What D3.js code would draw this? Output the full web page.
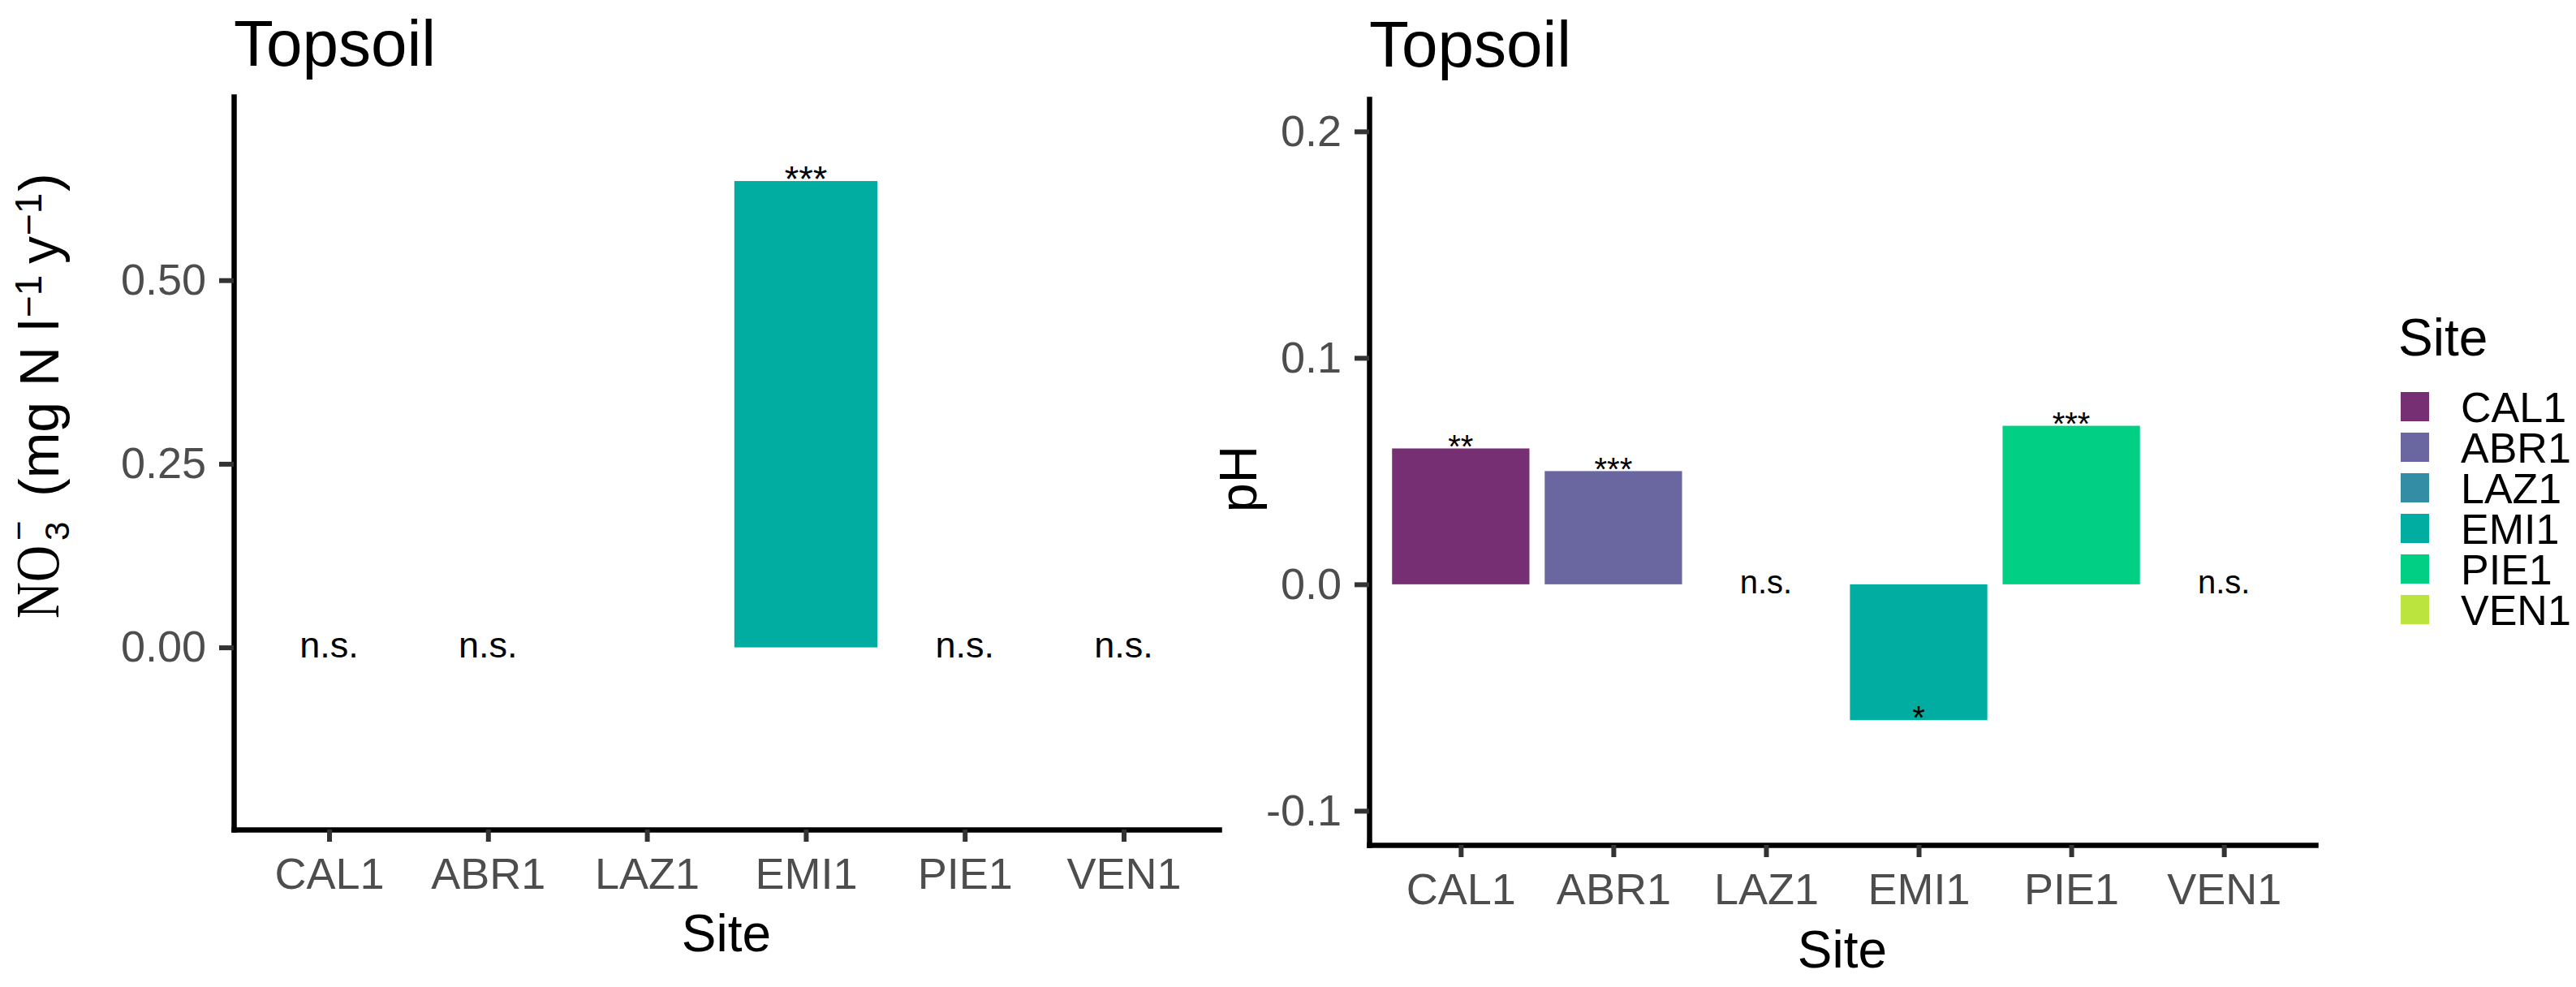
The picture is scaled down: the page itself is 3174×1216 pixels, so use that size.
<!DOCTYPE html>
<html><head><meta charset="utf-8">
<script src="https://cdn.jsdelivr.net/npm/d3@7"></script>
<style>
body{margin:0;background:#fff;}
svg text{font-family:"Liberation Sans",Arial,Helvetica,sans-serif;}
</style>
</head><body>
<svg id="chart" width="3174" height="1216"></svg>
<script>
// ---- data ----
const sites = ["CAL1","ABR1","LAZ1","EMI1","PIE1","VEN1"];
const siteColors = ["#772F74","#6A67A0","#338DA5","#00ADA0","#00CF84","#BCE43F"];
const nitrateValues = [0, 0, 0, 0.635, 0, 0];
const nitrateLabels = ["n.s.","n.s.","","***","n.s.","n.s."];
const phValues = [0.06, 0.05, 0, -0.06, 0.07, 0];
const phLabels = ["**","***","n.s.","*","***","n.s."];
const nitrateTicks = [0, 0.25, 0.5];
const phTicks = [-0.1, 0, 0.1, 0.2];
const panelTitle = "Topsoil";
const xTitle = "Site";
const legendTitle = "Site";

const svg = d3.select("#chart");
svg.append("rect").attr("width",3174).attr("height",1216).attr("fill","#fff");
const color = d3.scaleOrdinal().domain(sites).range(siteColors);

function panel(cfg){
  const g = svg.append("g");
  const x = d3.scalePoint().domain(sites).range(cfg.xr).padding(0.6);
  const bw = x.step()*0.9;
  const y = d3.scaleLinear().domain(cfg.yd).range(cfg.yr);
  const rows = sites.map((s,i)=>({s, v:cfg.values[i], l:cfg.labels[i]}));

  // bars
  g.selectAll("rect.bar").data(rows.filter(d=>d.v!==0))
    .join("rect").attr("class","bar")
    .attr("x", d=>x(d.s)-bw/2).attr("width", bw)
    .attr("y", d=>y(Math.max(0,d.v))).attr("height", d=>Math.abs(y(d.v)-y(0)))
    .attr("fill", d=>color(d.s));

  // significance labels
  g.selectAll("text.sig").data(rows.filter(d=>d.l!==""))
    .join("text").attr("class","sig")
    .attr("x", d=>x(d.s)).attr("y", d=>y(d.v)+0.28*cfg.sigSize)
    .attr("text-anchor","middle").attr("font-size",cfg.sigSize).attr("fill","#000")
    .text(d=>d.l);

  // y axis
  const ya = g.append("g").attr("transform",`translate(${cfg.xr[0]},0)`)
    .call(d3.axisLeft(y).tickValues(cfg.ticks).tickFormat(cfg.fmt).tickSize(18).tickPadding(16).tickSizeOuter(0));
  // x axis
  const xa = g.append("g").attr("transform",`translate(0,${cfg.yr[0]})`)
    .call(d3.axisBottom(x).tickSize(15).tickPadding(20).tickSizeOuter(0));
  [ya,xa].forEach(a=>{
    a.select(".domain").attr("stroke","#000").attr("stroke-width",6.5).attr("stroke-linecap","square");
    a.selectAll(".tick line").attr("stroke","#333").attr("stroke-width",6);
    a.selectAll(".tick text").attr("fill","#4D4D4D").attr("font-size",54)
      .style("font-family","'Liberation Sans',Arial,sans-serif");
  });

  // title
  g.append("text").attr("x",cfg.xr[0]).attr("y",cfg.titleY).attr("font-size",80).attr("fill","#000").text(panelTitle);
  // x title
  g.append("text").attr("x",(cfg.xr[0]+cfg.xr[1])/2).attr("y",cfg.xtY).attr("text-anchor","middle")
    .attr("font-size",64).attr("fill","#000").text(xTitle);
  return {x,y,g};
}

panel({xr:[288,1502], yr:[1022,119], yd:[-0.248,0.75], values:nitrateValues, labels:nitrateLabels,
  ticks:nitrateTicks, fmt:d=>d.toFixed(2), sigSize:45, titleY:81, xtY:1172});
panel({xr:[1687,2853], yr:[1041,122], yd:[-0.1151,0.2143], values:phValues, labels:phLabels,
  ticks:phTicks, fmt:d=>d.toFixed(1), sigSize:40, titleY:82, xtY:1192});

// left y-axis title (plotmath-like: NO[3]^"-" (mg N l^-1 y^-1)), built piece by piece
const ylParts = [
  {t:"NO",        bx:72, by:762, fs:76, serif:true, len:90},
  {t:"3",         bx:85, by:666, fs:42},
  {t:"\u2212",    bx:37, by:666, fs:42},
  {t:"(mg N l",   bx:72, by:612, fs:68},
  {t:"\u22121",   bx:51, by:391, fs:46},
  {t:"y",         bx:72, by:325, fs:68},
  {t:"\u22121",   bx:51, by:290, fs:46},
  {t:")",         bx:72, by:236, fs:68}
];
const ylg = svg.append("g");
ylParts.forEach(p=>{
  const t = ylg.append("text").attr("transform",`translate(${p.bx},${p.by}) rotate(-90)`)
    .attr("font-size",p.fs).attr("fill","#000").text(p.t);
  if(p.serif){
    t.style("font-family","'Liberation Serif','Times New Roman',serif")
     .attr("textLength",p.len).attr("lengthAdjust","spacingAndGlyphs");
  }
});

// right y-axis title
svg.append("text").attr("transform","translate(1548,590) rotate(-90)").attr("text-anchor","middle")
  .attr("font-size",64).attr("fill","#000").text("pH");

// legend
const lg = svg.append("g");
lg.append("text").attr("x",2955).attr("y",438).attr("font-size",64).attr("fill","#000").text(legendTitle);
sites.forEach((s,i)=>{
  lg.append("rect").attr("x",2958).attr("y",483+50*i).attr("width",35).attr("height",36).attr("fill",color(s));
  lg.append("text").attr("x",3032).attr("y",501+50*i).attr("dy","0.36em").attr("font-size",52).attr("fill","#000").text(s);
});
</script>
</body></html>
